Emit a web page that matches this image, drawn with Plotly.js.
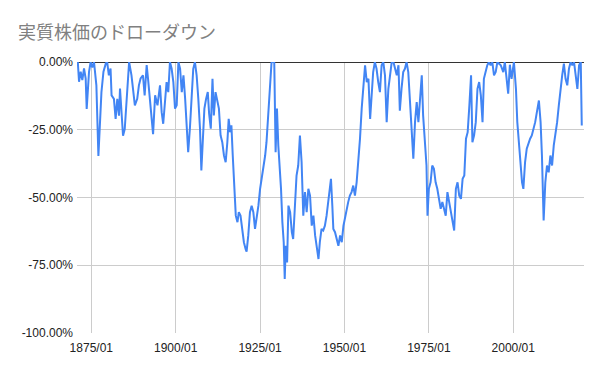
<!DOCTYPE html>
<html>
<head>
<meta charset="utf-8">
<script src="https://cdn.plot.ly/plotly-3.0.1.min.js"></script>
<style>html,body{margin:0;padding:0;background:#fff;}#chart{width:600px;height:371px;}</style>
</head>
<body>
<div id="chart"></div>
<script>
const chartTitle = "実質株価のドローダウン";
const years = [
1871.0,1871.36,1871.85,1872.34,1872.84,1873.33,1873.63,1874.02,1874.32,1874.8,1875.3,1875.8,1876.0,1876.5,1877.1,1877.6,1878.0,1878.6,1879.3,1879.7,
1880.2,1880.7,1881.0,1881.7,1882.2,1882.7,1883.2,1883.5,1884.0,1884.4,1884.9,1885.4,1885.7,1886.2,1886.9,1887.4,1887.9,1888.6,1889.1,1889.6,
1890.3,1890.8,1891.4,1891.8,1892.6,1893.3,1893.9,1894.6,1895.35,1895.84,1896.3,1896.8,1897.3,1897.8,1898.3,1898.8,1899.3,1899.8,
1900.3,1900.8,1901.3,1901.8,1902.3,1902.8,1903.25,1903.7,1904.2,1904.7,1905.2,1905.7,1906.2,1906.7,1907.2,1907.6,1908.0,1908.5,1909.0,1909.5,1909.9,
1910.4,1910.9,1911.3,1911.8,1912.3,1912.8,1913.3,1913.8,1914.3,1914.8,1915.3,1915.7,1916.1,1916.5,1916.9,1917.3,1917.8,1918.3,1918.7,1919.2,1919.7,
1920.2,1920.7,1921.0,1921.5,1922.0,1922.5,1923.0,1923.5,1924.0,1924.5,1925.0,1925.5,1926.0,1926.5,1926.9,1927.4,1927.9,1928.4,1928.9,1929.2,1929.6,
1930.0,1930.4,1930.8,1931.2,1931.6,1932.0,1932.3,1932.6,1933.0,1933.4,1933.9,1934.4,1934.8,1935.3,1935.8,1936.3,1936.8,1937.3,1937.8,1938.3,1938.8,1939.3,1939.8,
1940.3,1940.8,1941.3,1941.8,1942.3,1942.7,1943.2,1943.7,1944.2,1944.7,1945.2,1945.7,1946.0,1946.4,1946.7,1947.2,1947.7,1948.2,1948.7,1949.2,1949.7,
1950.2,1950.6,1951.1,1951.6,1952.1,1952.6,1953.1,1953.6,1954.1,1954.6,1955.1,1955.6,1956.1,1956.6,1957.1,1957.6,1958.0,1958.5,1959.0,1959.5,
1960.0,1960.5,1961.0,1961.5,1962.0,1962.5,1963.0,1963.5,1964.0,1964.5,1965.0,1965.5,1966.0,1966.4,1966.9,1967.4,1967.9,1968.4,1968.9,1969.4,1969.9,
1970.4,1970.9,1971.4,1971.9,1972.4,1972.9,1973.3,1973.8,1974.3,1974.6,1975.0,1975.5,1976.0,1976.5,1977.0,1977.5,1978.0,1978.5,1979.0,1979.5,
1980.0,1980.5,1981.0,1981.5,1982.0,1982.5,1983.0,1983.5,1984.0,1984.5,1985.0,1985.5,1986.0,1986.5,1987.0,1987.5,1987.9,1988.4,1988.9,1989.4,1989.9,
1990.4,1990.9,1991.3,1991.8,1992.3,1992.8,1993.3,1993.8,1994.3,1994.8,1995.3,1996.3,1997.05,1997.5,1998.5,1999.0,1999.5,
2000.2,2000.8,2001.2,2001.7,2002.2,2002.6,2003.0,2003.5,2004.0,2004.5,2005.0,2005.5,2006.0,2006.5,2007.0,2007.6,2008.1,2008.5,2009.0,2009.5,
2010.0,2010.5,2011.0,2011.5,2012.0,2012.5,2013.0,2013.5,2014.0,2014.5,2015.0,2015.5,2016.0,2016.5,2017.0,2017.5,2018.0,2018.5,2019.0,2019.5,2020.0,2020.3
];
const drawdown = [
0,-7.3,-3.6,-6.7,-2.4,-6.1,-17.3,-9.8,-3.6,0,-2,0,-2.4,-8.6,-34.7,-22.3,-11.1,-3.6,-0.5,0,
-4.9,-2.4,-12.3,-13.6,-21,-13.6,-19.8,-9.8,-22.3,-27.2,-24.8,-16,-7.3,0,-4.9,-9.8,-16,-13.6,-8.6,-6.1,
-4.9,-12.3,-1.1,-6.1,-16,-26.6,-12.3,-16,-8.6,-18.5,-22.8,-13.6,-7.4,-11.1,0,-2.5,-7.4,-17.2,
-16,0,-2.5,-11.1,-4.9,-13.6,-24.6,-33.3,-24.6,-13.6,-2.5,0,-4.9,-13.6,-24.6,-40,-27.1,-17.2,-13.6,-11.1,-19.1,
-24.6,-6.2,-19.7,-11.1,-14.8,-17.2,-27.1,-29.6,-34.5,-37,-29.6,-21,-25.9,-23.4,-34.5,-44.4,-56.7,-59.1,-55.4,-56.7,-62.8,
-66.5,-69,-70,-64,-55.4,-53,-55.4,-61.6,-57.9,-53,-46.8,-43.1,-39.4,-34.5,-29.6,-18.5,-7.4,0,0,0,-33.3,
-17.2,-30.8,-38.2,-46.8,-59.1,-66.5,-80.1,-67.8,-74,-53,-55.4,-62.8,-65.3,-53,-41.9,-38.2,-27.1,-37,-56.7,-48,-55.4,-46.8,-49.3,
-60.4,-56.7,-64,-69,-72.7,-66.5,-61.6,-62.2,-60.4,-56.7,-51.7,-46.8,-43.1,-53,-61.6,-62.8,-65.3,-67.8,-64,-66.5,-60.4,
-56.7,-54.2,-51.7,-49.3,-48,-45.6,-49.3,-44.4,-37,-28.3,-17.2,-8.6,-1.2,-7.4,-6.2,-21,-12.3,-3.7,0,-2.5,
-7.4,-11.1,-1.2,0,-4.9,-22.2,-9.9,-3.7,0,0,-2.5,-4.9,-1.2,-18,-9.9,-3.7,-2.5,0,-3.7,-13.6,-24.6,
-35.7,-22.2,-14.8,-22.2,-12.3,-4.9,-19.7,-28.3,-38.2,-56.7,-46.8,-44.4,-38.2,-39.4,-44.4,-46.8,-50.5,-54.2,-51.7,-54.2,
-56.7,-48,-51.7,-55.4,-59.1,-62.2,-46.8,-44.4,-49.3,-50.5,-43.1,-41.9,-28.3,-25.9,-16,-4.9,-29.6,-27.1,-22.2,-9.9,-7.4,
-12.3,-22.2,-6.2,-3.7,-1.2,0,-1.2,0,-4.9,-3.7,0,-1.2,-3.7,0,-11.7,-1,-6.2,
0,-9.9,-22.2,-29.6,-38.2,-44.4,-46.8,-37,-32,-29.6,-28.3,-27.1,-24.6,-22.2,-18.5,-14.2,-22.2,-34.5,-58.5,-44.4,
-38.2,-40.7,-34.5,-38.2,-30.8,-27.1,-22.2,-16,-9.9,-4.9,-0.6,-6.2,-8.6,-2.5,0,-1.2,0,-4.9,-9.9,-1.2,0,-23.4
];
const xTickVals = [1875,1900,1925,1950,1975,2000];
const xTickText = ["1875/01","1900/01","1925/01","1950/01","1975/01","2000/01"];
const yTickVals = [0,-25,-50,-75,-100];
const yTickText = ["0.00%","-25.00%","-50.00%","-75.00%","-100.00%"];

const trace = {
  x: years, y: drawdown, type: 'scatter', mode: 'lines',
  line: {color: '#4285F4', width: 2}, hoverinfo: 'skip'
};
const layout = {
  width: 600, height: 371,
  margin: {l: 77, r: 16, t: 62, b: 38},
  paper_bgcolor: '#fff', plot_bgcolor: '#fff',
  showlegend: false,
  title: {text: chartTitle, x: 0.03, xref: 'container', xanchor: 'left', y: 0.912, yref: 'container', yanchor: 'middle',
    font: {family: '"Noto Sans CJK JP", sans-serif', size: 18, color: '#808080'}},
  xaxis: {range: [1870.76, 2020.96], tickvals: xTickVals, ticktext: xTickText, showgrid: true, gridcolor: '#cccccc', gridwidth: 1,
    zeroline: false, showline: false, ticks: '', ticklabelstandoff: 6,
    tickfont: {family: '"Liberation Sans", Arial, sans-serif', size: 12, color: '#222'}},
  yaxis: {range: [-100, 0], tickvals: yTickVals, ticktext: yTickText, showgrid: true, gridcolor: '#cccccc', gridwidth: 1,
    zeroline: true, zerolinecolor: '#333333', zerolinewidth: 1, showline: false, ticks: '', ticklabelstandoff: 3,
    tickfont: {family: '"Liberation Sans", Arial, sans-serif', size: 12, color: '#222'}}
};
Plotly.newPlot('chart', [trace], layout, {staticPlot: true, displayModeBar: false});
</script>
</body>
</html>
